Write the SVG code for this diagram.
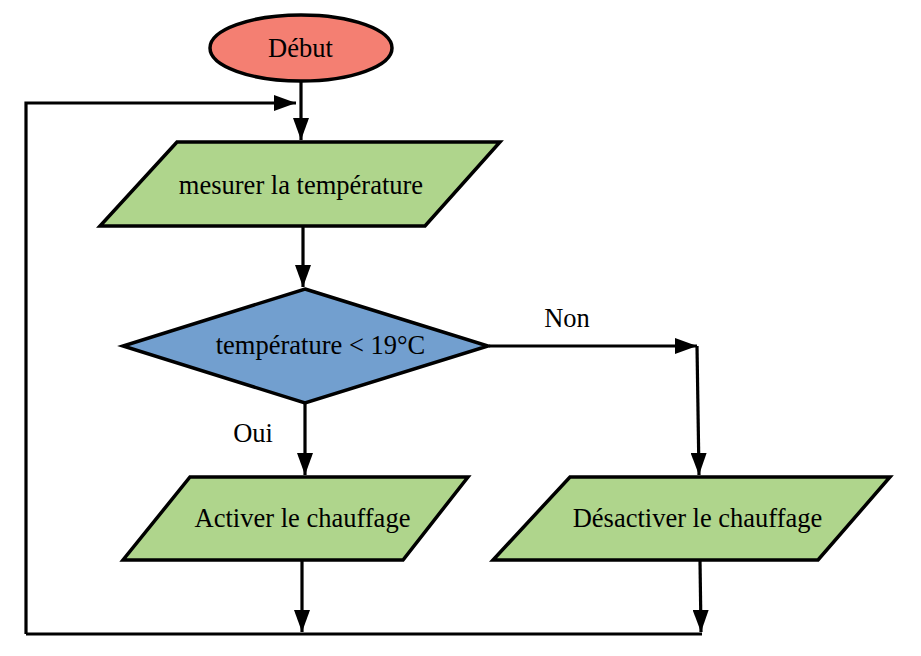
<svg xmlns="http://www.w3.org/2000/svg" width="921" height="656" viewBox="0 0 921 656">
<defs>
<style>
.shape{stroke:#000;stroke-width:3.5;stroke-linejoin:miter}
.lbl{font-family:"Liberation Serif","Times New Roman",serif;font-size:26.5px;fill:#000;text-anchor:middle}
.conn{fill:none;stroke:#000;stroke-width:3.2}
</style>
<marker id="arr" markerUnits="userSpaceOnUse" markerWidth="24" markerHeight="16" refX="22" refY="8" orient="auto">
<path d="M0,0 L22,8 L0,16 Z" fill="#000"/>
</marker>
</defs>
<rect width="921" height="656" fill="#fff"/>
<g id="connectors">
<path class="conn" d="M301,81 V140" marker-end="url(#arr)"/>
<path class="conn" d="M26,634 V103 H296" marker-end="url(#arr)"/>
<path class="conn" d="M303,226 V287" marker-end="url(#arr)"/>
<path class="conn" d="M489,346 H697" marker-end="url(#arr)"/>
<path class="conn" d="M697,346 L699,475" marker-end="url(#arr)"/>
<path class="conn" d="M305,403 V475" marker-end="url(#arr)"/>
<path class="conn" d="M302,560 V632" marker-end="url(#arr)"/>
<path class="conn" d="M700,560 L701,632" marker-end="url(#arr)"/>
<path class="conn" d="M26,634 H702"/>
</g>
<g id="debut">
<ellipse class="shape" cx="301" cy="48" rx="91" ry="33" fill="#f47f72"/>
<text class="lbl" x="300.5" y="57">Début</text>
</g>
<g id="mesurer">
<polygon class="shape" points="177,142 500,142 425,226 100,226" fill="#afd58c"/>
<text class="lbl" x="301" y="194">mesurer la température</text>
</g>
<g id="test">
<polygon class="shape" points="305,289 488,346 305,403 123,346" fill="#729fcf"/>
<text class="lbl" x="320.5" y="354">température &lt; 19°C</text>
</g>
<g id="label-non"><text class="lbl" x="567" y="327">Non</text></g>
<g id="label-oui"><text class="lbl" x="253" y="442">Oui</text></g>
<g id="activer">
<polygon class="shape" points="190,477 468,477 403,560 123,560" fill="#afd58c"/>
<text class="lbl" x="302.5" y="527">Activer le chauffage</text>
</g>
<g id="desactiver">
<polygon class="shape" points="570,477 890,477 818,560 493,560" fill="#afd58c"/>
<text class="lbl" x="697.5" y="527">Désactiver le chauffage</text>
</g>
</svg>
